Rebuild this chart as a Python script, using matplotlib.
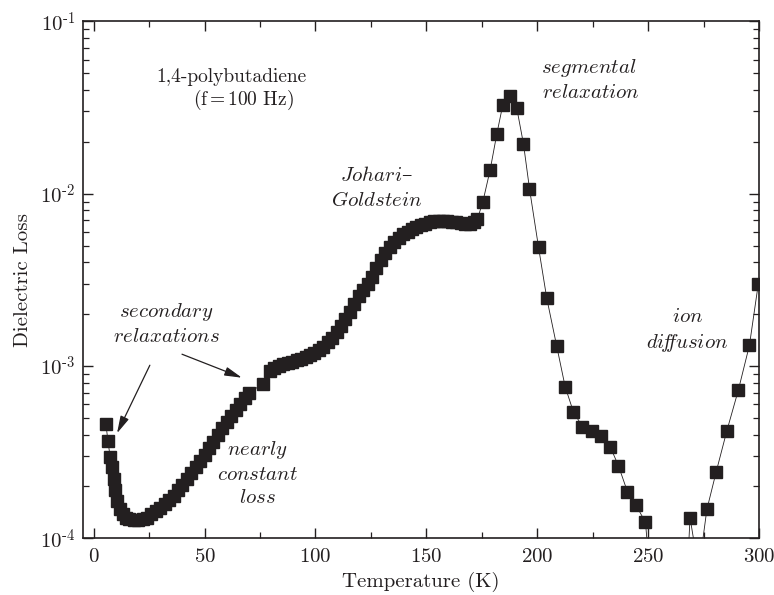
import matplotlib
matplotlib.use("Agg")
import matplotlib.pyplot as plt
from matplotlib.ticker import MultipleLocator, LogLocator, FixedLocator, FixedFormatter, NullFormatter

# dielectric loss of 1,4-polybutadiene at 100 Hz
temperature = [5.5, 6.4, 7.4, 8.2, 9.0, 9.8, 10.7, 11.8, 13.0, 14.5,
               16, 18, 20, 22, 24, 26, 28, 30, 32, 34,
               36, 38, 40, 42, 44, 46, 48, 50, 52, 54,
               56, 58, 60, 62, 64, 66, 68, 70,
               76.5, 79.5, 81.5, 83.5, 85.5, 87.5, 89.5, 91.5, 93.5, 95.5,
               97.5, 99.5, 101.5, 103.5, 105.5, 107.5, 109.5, 111.5, 113.5, 115.5,
               117.5, 119.5, 121.5, 123.5, 125.5, 127.5, 129.5, 131.5, 133.5, 135.5,
               137.5, 139.5, 141.5, 143.5, 145.5, 147.5, 149.5, 151.5, 153.5, 155.5,
               157.5, 159.5, 161.5, 163.5, 165.5, 167.5, 169.5, 171.5, 173.0,
               175.5, 178.8, 181.8, 184.5, 187.5, 190.8, 193.8, 196.5, 200.6, 204.3,
               208.8, 212.6, 216.3, 220.4, 224.6, 228.7, 232.9, 236.6, 240.7, 244.6,
               248.8, 252.9, 257.0, 261.0, 265.0, 268.9, 272.8, 276.5, 280.7, 285.5,
               290.7, 295.7, 299.7]
loss = [4.6e-4, 3.66e-4, 2.97e-4, 2.6e-4, 2.2e-4, 1.9e-4, 1.65e-4, 1.48e-4, 1.38e-4, 1.32e-4,
        1.29e-4, 1.28e-4, 1.28e-4, 1.29e-4, 1.32e-4, 1.38e-4, 1.44e-4, 1.5e-4, 1.58e-4, 1.66e-4,
        1.76e-4, 1.9e-4, 2.05e-4, 2.22e-4, 2.4e-4, 2.6e-4, 2.82e-4, 3.05e-4, 3.32e-4, 3.62e-4,
        3.95e-4, 4.35e-4, 4.75e-4, 5.15e-4, 5.55e-4, 6.0e-4, 6.5e-4, 7.0e-4,
        7.9e-4, 9.4e-4, 9.7e-4, 1.0e-3, 1.02e-3, 1.04e-3, 1.06e-3, 1.08e-3, 1.1e-3, 1.13e-3,
        1.16e-3, 1.19e-3, 1.23e-3, 1.29e-3, 1.37e-3, 1.46e-3, 1.57e-3, 1.71e-3, 1.88e-3, 2.06e-3,
        2.3e-3, 2.55e-3, 2.75e-3, 3.0e-3, 3.3e-3, 3.7e-3, 4.1e-3, 4.5e-3, 4.9e-3, 5.25e-3,
        5.55e-3, 5.8e-3, 6.0e-3, 6.2e-3, 6.4e-3, 6.55e-3, 6.7e-3, 6.8e-3, 6.9e-3, 6.95e-3,
        6.95e-3, 6.9e-3, 6.85e-3, 6.8e-3, 6.75e-3, 6.7e-3, 6.7e-3, 6.85e-3, 7.1e-3,
        9.0e-3, 1.38e-2, 2.23e-2, 3.29e-2, 3.68e-2, 3.12e-2, 1.94e-2, 1.07e-2, 4.87e-3, 2.47e-3,
        1.3e-3, 7.57e-4, 5.42e-4, 4.44e-4, 4.19e-4, 3.94e-4, 3.4e-4, 2.64e-4, 1.86e-4, 1.55e-4,
        1.24e-4, 3.0e-5, 1.5e-5, 1.2e-5, 1.2e-5, 1.32e-4, 6.5e-5, 1.47e-4, 2.43e-4, 4.2e-4,
        7.25e-4, 1.32e-3, 3.0e-3]

ytick_values = [1e-4, 1e-3, 1e-2, 1e-1]
ytick_labels = [r'$10^{\text{-}4}$', r'$10^{\text{-}3}$', r'$10^{\text{-}2}$', r'$10^{\text{-}1}$']

plt.rcParams['font.family'] = ['cmr10', 'DejaVu Serif']
plt.rcParams['mathtext.fontset'] = 'cm'
plt.rcParams['axes.formatter.use_mathtext'] = True
plt.rcParams['axes.unicode_minus'] = False

ink = '#231f20'

fig = plt.figure(figsize=(7.74, 5.95), dpi=100)
ax = fig.add_axes([0.1068, 0.0953, 0.8738, 0.8689])

ax.plot(temperature, loss, '-', color=ink, lw=0.6,
        marker='s', ms=8, mec=ink, mfc=ink)

ax.set_yscale('log')
ax.set_xlim(-5, 300)
ax.set_ylim(1e-4, 1e-1)

ax.xaxis.set_major_locator(MultipleLocator(50))
ax.xaxis.set_minor_locator(MultipleLocator(25))
ax.yaxis.set_major_locator(FixedLocator(ytick_values))
ax.yaxis.set_major_formatter(FixedFormatter(ytick_labels))
ax.yaxis.set_minor_locator(LogLocator(base=10, subs=range(2, 10)))
ax.yaxis.set_minor_formatter(NullFormatter())

ax.tick_params(which='both', direction='in', top=True, right=True, colors=ink, labelsize=15)
ax.tick_params(which='major', length=7, width=1.0)
ax.tick_params(which='minor', length=4, width=0.9)
ax.tick_params(axis='x', pad=7)
ax.tick_params(axis='y', pad=5)
for s in ax.spines.values():
    s.set_linewidth(1.2)
    s.set_color(ink)

ax.set_xlabel('Temperature (K)', fontsize=15, color=ink, labelpad=4)
ax.set_ylabel('Dielectric Loss', fontsize=15, color=ink, labelpad=6)

# annotations
ax.text(62.0, 0.0474, '1,4-polybutadiene', fontsize=14, ha='center', va='center', color=ink)
ax.text(67.4, 0.0348, '(f$\\,$=$\\,$100 Hz)', fontsize=14, ha='center', va='center', color=ink)
ax.text(223.3, 0.0535, r'$\mathit{segmental}$', fontsize=15, ha='center', va='center', color=ink)
ax.text(224.3, 0.0383, r'$\mathit{relaxation}$', fontsize=15, ha='center', va='center', color=ink)
ax.text(127.4, 0.0128, r'$\mathit{Johari}$–', fontsize=15, ha='center', va='center', color=ink,
        family='DejaVu Serif')
ax.text(127.6, 0.00916, r'$\mathit{Goldstein}$', fontsize=15, ha='center', va='center', color=ink)
ax.text(32.7, 0.00206, r'$\mathit{secondary}$', fontsize=15, ha='center', va='center', color=ink)
ax.text(32.7, 0.001476, r'$\mathit{relaxations}$', fontsize=15, ha='center', va='center', color=ink)
ax.text(73.7, 3.25e-4, r'$\mathit{nearly}$', fontsize=15, ha='center', va='center', color=ink)
ax.text(73.7, 2.33e-4, r'$\mathit{constant}$', fontsize=15, ha='center', va='center', color=ink)
ax.text(73.7, 1.71e-4, r'$\mathit{loss}$', fontsize=15, ha='center', va='center', color=ink)
ax.text(267.6, 1.93e-3, r'$\mathit{ion}$', fontsize=15, ha='center', va='center', color=ink)
ax.text(267.6, 1.36e-3, r'$\mathit{di\!f\!\!fusion}$', fontsize=15, ha='center', va='center', color=ink)

arrow = dict(arrowstyle='-|>,head_length=0.7,head_width=0.18', color=ink, lw=0.9,
             mutation_scale=15, shrinkA=0, shrinkB=0)
ax.annotate('', xy=(10.5, 4.07e-4), xytext=(25.3, 1.01e-3), arrowprops=arrow)
ax.annotate('', xy=(66.8, 8.55e-4), xytext=(39.8, 1.17e-3), arrowprops=arrow)

fig.savefig('out.png', dpi=100)
